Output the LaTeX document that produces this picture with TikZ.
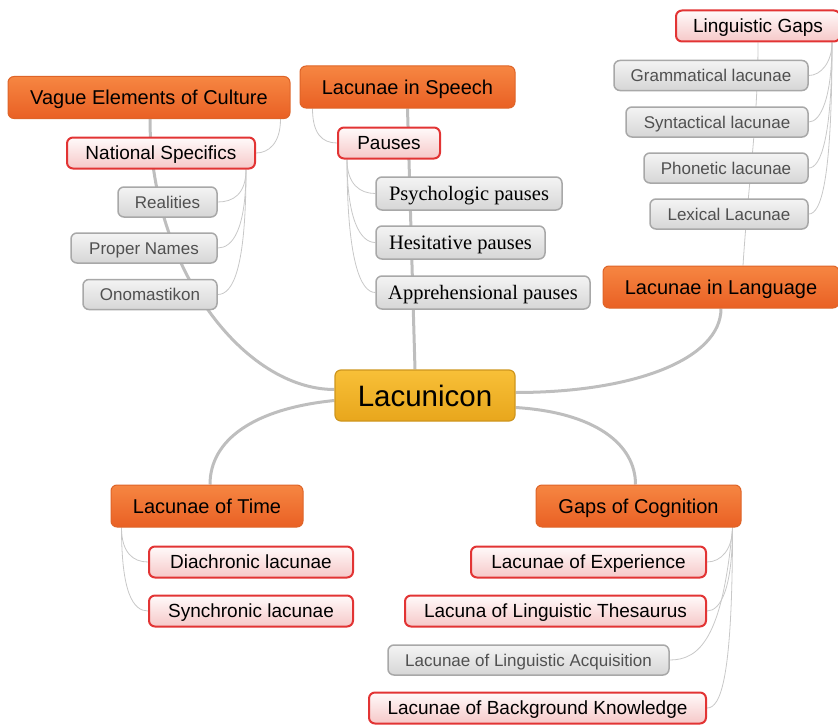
\documentclass[tikz,border=0pt]{standalone}
\usepackage{fontspec}
\setmainfont{Liberation Sans}
\newfontfamily\timesfont{Liberation Serif}
\usetikzlibrary{calc,backgrounds}
\definecolor{orTop}{RGB}{246,134,66}
\definecolor{orBot}{RGB}{233,96,36}
\definecolor{orDraw}{RGB}{222,100,40}
\definecolor{pkTop}{RGB}{255,250,250}
\definecolor{pkBot}{RGB}{246,200,200}
\definecolor{pkDraw}{RGB}{226,52,52}
\definecolor{gyTop}{RGB}{244,244,244}
\definecolor{gyBot}{RGB}{214,214,214}
\definecolor{gyDraw}{RGB}{168,168,168}
\definecolor{gyText}{RGB}{80,80,80}
\definecolor{gdTop}{RGB}{248,192,56}
\definecolor{gdBot}{RGB}{232,166,28}
\definecolor{gdDraw}{RGB}{206,150,30}
\definecolor{trunk}{RGB}{190,190,190}
\definecolor{twig}{RGB}{200,200,200}
\begin{document}
\begin{tikzpicture}[x=1pt,y=-1pt,
 box/.style={rectangle, rounded corners=6pt, inner sep=0pt, align=center, text depth=0pt},
 mainbox/.style={box, top color=gdTop, bottom color=gdBot, draw=gdDraw, line width=1.2pt, font=\fontsize{29.5}{32}\selectfont, text height=21.2pt},
 topicbox/.style={box, top color=orTop, bottom color=orBot, draw=orDraw, line width=1pt, font=\fontsize{20}{23}\selectfont, minimum height=42, text height=14.4pt},
 subbox/.style={box, top color=pkTop, bottom color=pkBot, draw=pkDraw, line width=2pt, font=\fontsize{19}{22}\selectfont, minimum height=31, text height=13.7pt},
 leafbox/.style={box, top color=gyTop, bottom color=gyBot, draw=gyDraw, line width=1.5pt, text=gyText, font=\fontsize{17}{20}\selectfont, minimum height=30, text height=12.2pt},
 serifleaf/.style={leafbox, text=black, font=\timesfont\fontsize{20.5}{23}\selectfont, minimum height=33, text height=13.5pt},
 trunkline/.style={draw=trunk, line width=3pt},
 twigline/.style={draw=twig, line width=0.8pt},
]
\useasboundingbox (0,0) rectangle (838,725);

\node[mainbox, minimum width=180, minimum height=51] (cen) at (425,395.5) {Lacunicon};

\node[topicbox, minimum width=282] (vague) at (149,97.5) {Vague Elements of Culture};
\node[subbox, minimum width=188] (natl) at (161,153) {National Specifics};
\node[leafbox, minimum width=99] (real) at (167.5,202) {Realities};
\node[leafbox, minimum width=146] (prop) at (144,248) {Proper Names};
\node[leafbox, minimum width=134] (onom) at (150,294.5) {Onomastikon};

\node[topicbox, minimum width=215] (speech) at (407.5,87) {Lacunae in Speech};
\node[subbox, minimum width=102] (pause) at (389,143) {Pauses};
\node[serifleaf, minimum width=186] (psy) at (469,193.5) {Psychologic pauses};
\node[serifleaf, minimum width=169] (hes) at (460.5,242.5) {Hesitative pauses};
\node[serifleaf, minimum width=214] (app) at (483,292.5) {Apprehensional pauses};

\node[subbox, minimum width=164] (gaps) at (758,26) {Linguistic Gaps};
\node[leafbox, minimum width=194] (gram) at (711,75.5) {Grammatical lacunae};
\node[leafbox, minimum width=182] (synt) at (717,122) {Syntactical lacunae};
\node[leafbox, minimum width=164] (phon) at (726,168) {Phonetic lacunae};
\node[leafbox, minimum width=158] (lex) at (729,214) {Lexical Lacunae};
\node[topicbox, minimum width=236] (lang) at (721,287) {Lacunae in Language};

\node[topicbox, minimum width=192] (time) at (207,506) {Lacunae of Time};
\node[subbox, minimum width=204] (dia) at (251,562) {Diachronic lacunae};
\node[subbox, minimum width=204] (syn) at (251,611) {Synchronic lacunae};

\node[topicbox, minimum width=205] (cog) at (638.5,506) {Gaps of Cognition};
\node[subbox, minimum width=235] (exp) at (588.5,562) {Lacunae of Experience};
\node[subbox, minimum width=301] (thes) at (555.5,611) {Lacuna of Linguistic Thesaurus};
\node[leafbox, minimum width=281] (acq) at (528.5,660) {Lacunae of Linguistic Acquisition};
\node[subbox, minimum width=337] (back) at (537.5,708) {Lacunae of Background Knowledge};

\begin{scope}[on background layer]
% trunks
\draw[trunkline] ($(cen.west)+(0,-6)$) .. controls +(-90,0) and +(0,150) .. ($(vague.south)+(1,0)$);
\draw[trunkline] ($(cen.north)+(-10,0)$) -- (speech.south);
\draw[trunkline] ($(cen.east)+(0,-3)$) .. controls +(120,0) and +(0,50) .. (lang.south);
\draw[trunkline] ($(cen.west)+(0,5)$) .. controls +(-80,8) and +(0,-45) .. ($(time.north)+(3,0)$);
\draw[trunkline] ($(cen.east)+(0,12)$) .. controls +(80,5) and +(0,-40) .. ($(cog.north)+(-3,0)$);
% twigs: culture
\draw[twigline] ($(vague.south east)+(-10,0)$) .. controls +(0,25) and +(12,0) .. (natl.east);
\draw[twigline] ($(natl.south east)+(-10,0)$) .. controls +(0,25) and +(15,0) .. (real.east);
\draw[twigline] ($(natl.south east)+(-10,0)$) .. controls +(0,60) and +(15,0) .. (prop.east);
\draw[twigline] ($(natl.south east)+(-10,0)$) .. controls +(0,100) and +(15,0) .. (onom.east);
% speech
\draw[twigline] ($(speech.south west)+(13,0)$) .. controls +(0,25) and +(-15,0) .. (pause.west);
\draw[twigline] ($(pause.south west)+(10,0)$) .. controls +(0,25) and +(-15,0) .. (psy.west);
\draw[twigline] ($(pause.south west)+(10,0)$) .. controls +(0,60) and +(-15,0) .. (hes.west);
\draw[twigline] ($(pause.south west)+(10,0)$) .. controls +(0,100) and +(-15,0) .. (app.west);
% language
\draw[twigline] ($(lang.north)+(22,0)$) .. controls +(5,-80) and +(0,80) .. (gaps.south);
\draw[twigline] ($(gaps.south east)+(-9,0)$) .. controls +(0,20) and +(12,0) .. (gram.east);
\draw[twigline] ($(gaps.south east)+(-9,0)$) .. controls +(0,55) and +(12,0) .. (synt.east);
\draw[twigline] ($(gaps.south east)+(-9,0)$) .. controls +(0,95) and +(12,0) .. (phon.east);
\draw[twigline] ($(gaps.south east)+(-9,0)$) .. controls +(0,140) and +(12,0) .. (lex.east);
% time
\draw[twigline] ($(time.south west)+(11,0)$) .. controls +(0,25) and +(-15,0) .. (dia.west);
\draw[twigline] ($(time.south west)+(11,0)$) .. controls +(0,65) and +(-15,0) .. (syn.west);
% cognition
\draw[twigline] ($(cog.south east)+(-9,0)$) .. controls +(0,22) and +(14,0) .. (exp.east);
\draw[twigline] ($(cog.south east)+(-9,0)$) .. controls +(0,60) and +(14,0) .. (thes.east);
\draw[twigline] ($(cog.south east)+(-9,0)$) .. controls +(-10,110) and +(30,0) .. (acq.east);
\draw[twigline] ($(cog.south east)+(-9,0)$) .. controls +(0,150) and +(14,0) .. (back.east);
\end{scope}
\end{tikzpicture}
\end{document}
